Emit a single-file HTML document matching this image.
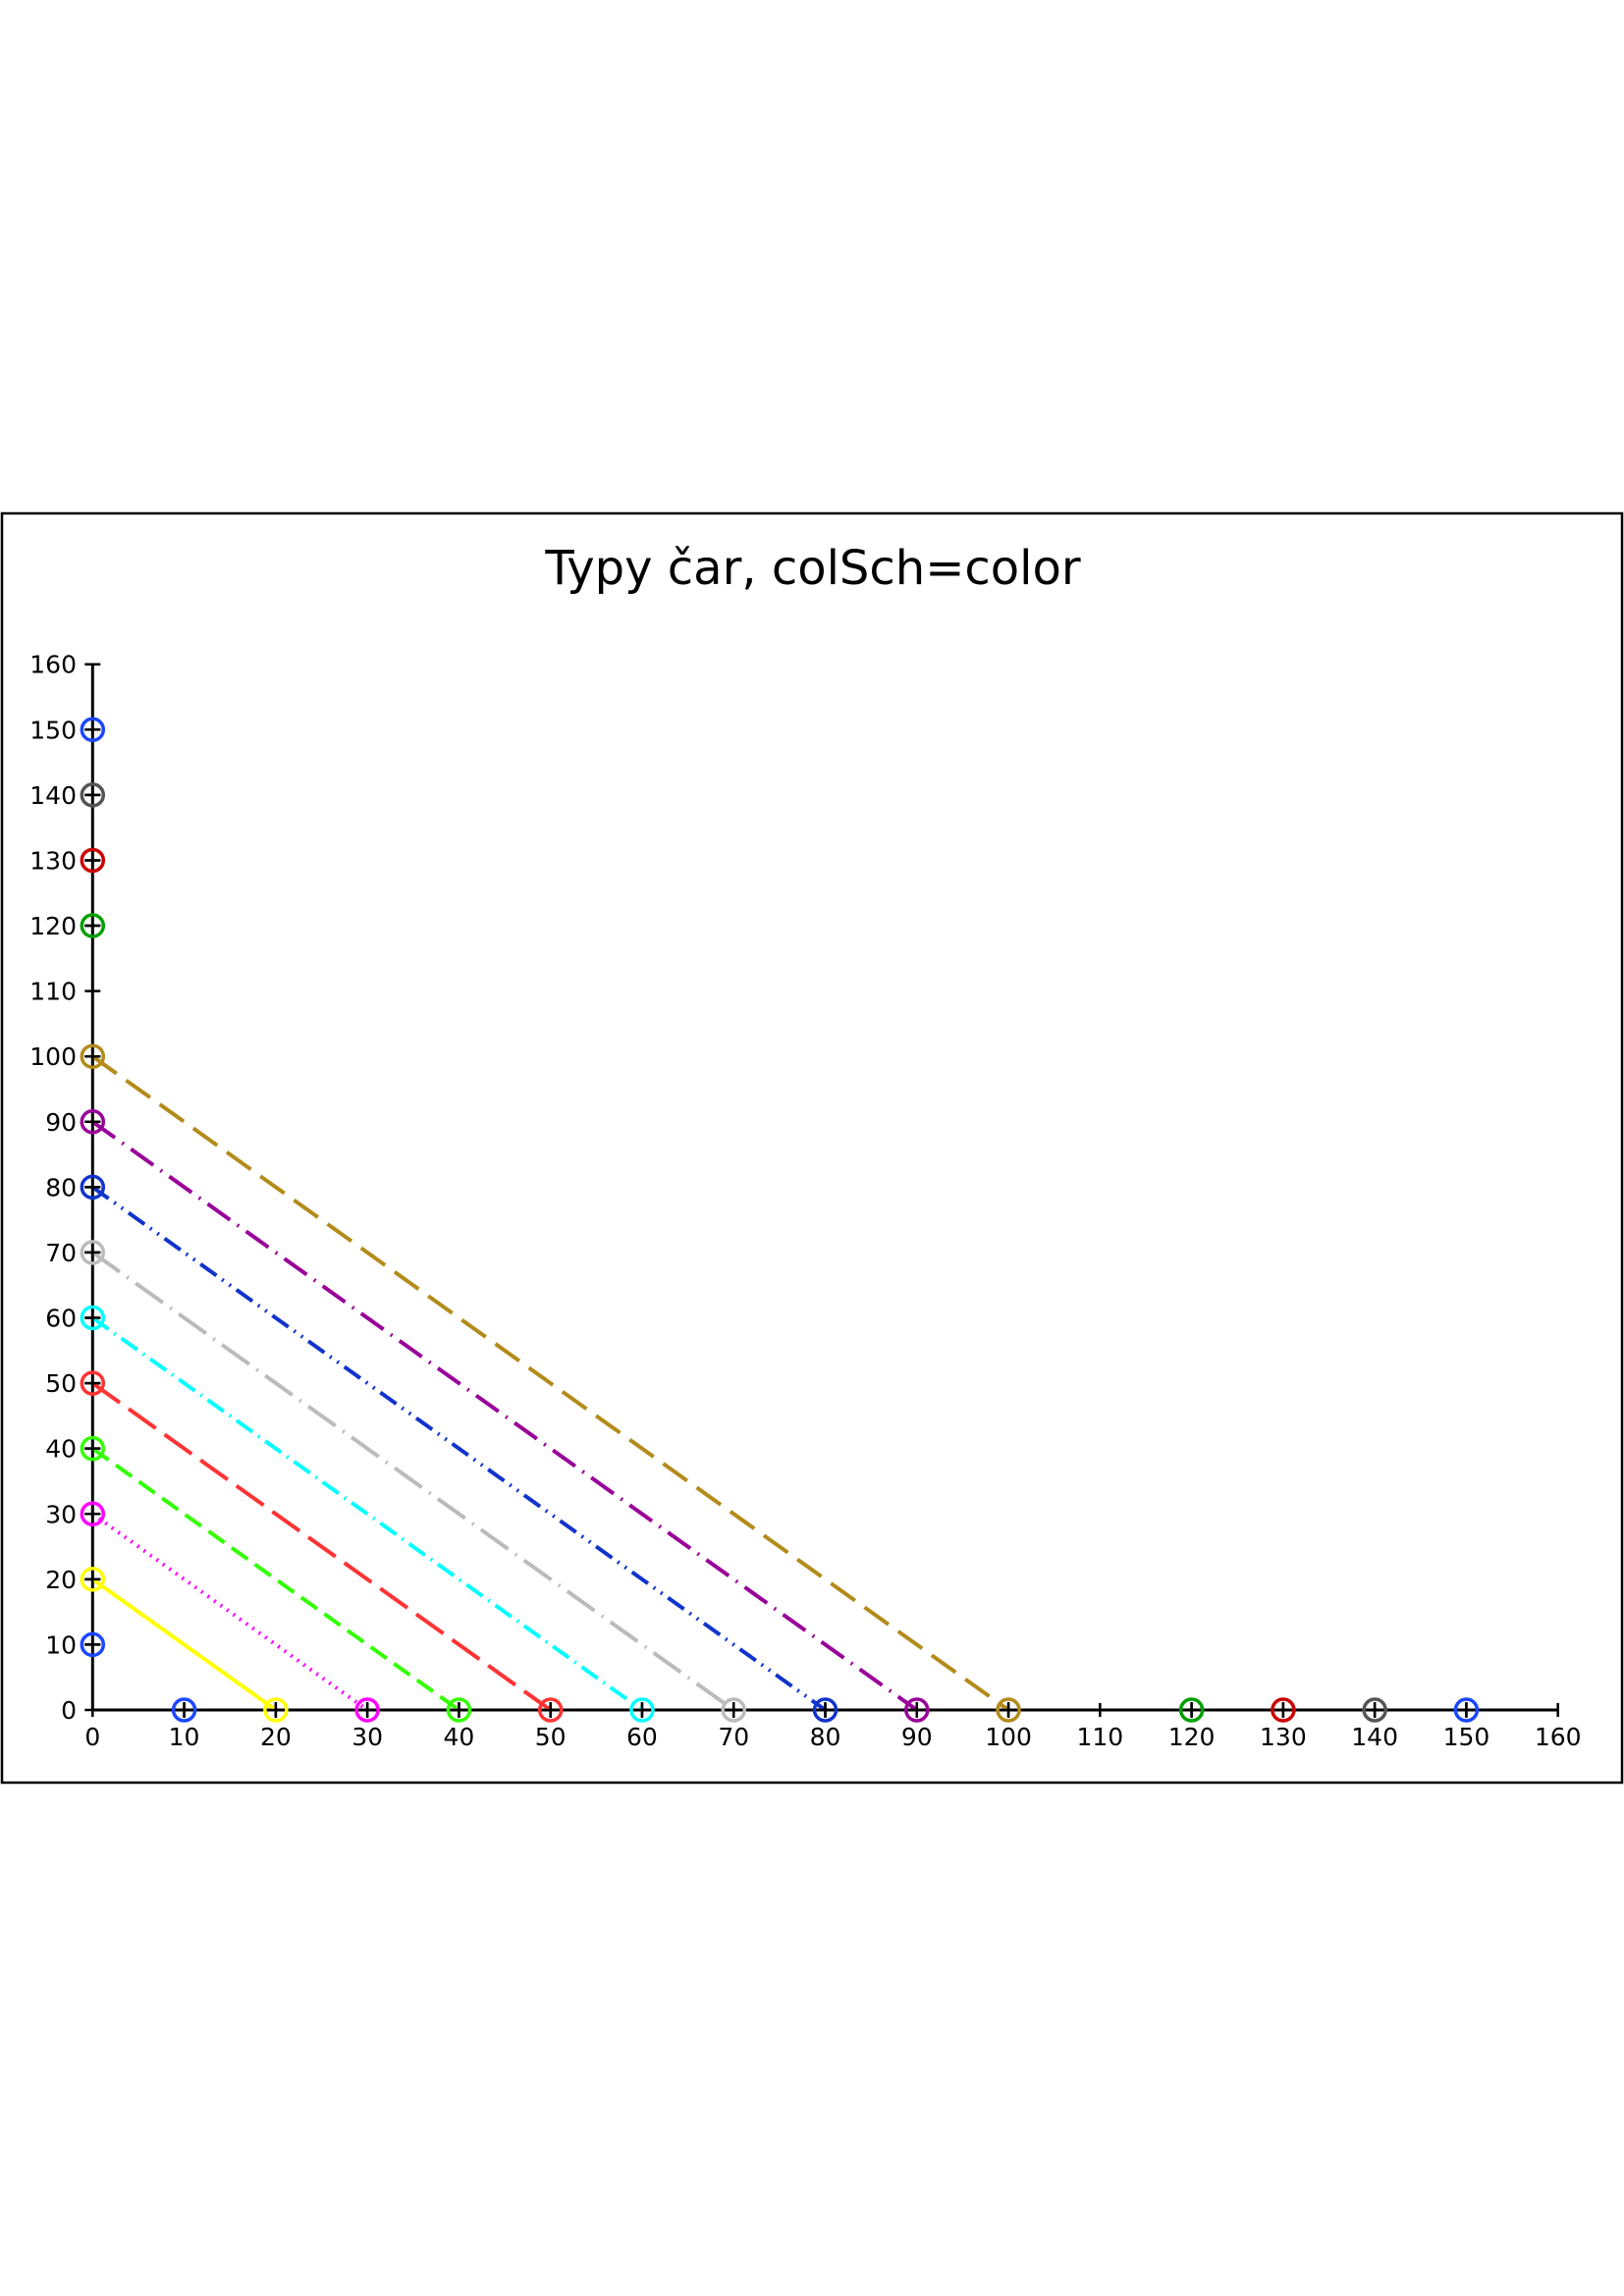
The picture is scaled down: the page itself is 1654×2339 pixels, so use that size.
<!DOCTYPE html>
<html><head><meta charset="utf-8"><style>
html,body{margin:0;padding:0;background:#fff;}
svg{display:block;font-family:"DejaVu Sans","Liberation Sans",sans-serif;}
</style></head><body>
<svg id="chart" width="1654" height="2339" viewBox="0 0 1654 2339" xmlns="http://www.w3.org/2000/svg">
<rect x="2" y="523" width="1650" height="1293" fill="none" stroke="#000" stroke-width="2.5"/>
<text x="828" y="595" font-size="48" text-anchor="middle" fill="#000">Typy čar, colSch=color</text>
<g id="axes"></g>
<g id="series"></g>
<g id="markers"></g>
</svg>
<script>
const ticks = [0,10,20,30,40,50,60,70,80,90,100,110,120,130,140,150,160];
const lineValues = [20,30,40,50,60,70,80,90,100];
const lineColors = ["#ffff00","#ff00ff","#33ff00","#ff3333","#00ffff","#bbbbbb","#1133cc","#990099","#b38b1a"];
const lineDashes = ["none","2 6","20 9","34 11","20 7 2 7","34 9 2 9","20 7 2 7 2 7","28 9 2 9","30 12"];
const pointValues = [10,120,130,140,150];
const pointColors = ["#1a47ff","#00a000","#cc0000","#555555","#1a47ff"];

const NS="http://www.w3.org/2000/svg";
const X0=94.3, Y0=1742, PX=(1586.7-94.3)/160, PY=(1742-676.7)/160;
function sx(v){return X0+v*PX;}
function sy(v){return Y0-v*PY;}
function mk(tag,attrs,parent){const e=document.createElementNS(NS,tag);for(const k in attrs)e.setAttribute(k,attrs[k]);parent.appendChild(e);return e;}
const axes=document.getElementById('axes'), series=document.getElementById('series'), markers=document.getElementById('markers');

const xa=mk('line',{x1:sx(0),y1:sy(0),x2:sx(160),y2:sy(0),stroke:'#000','stroke-width':3},axes);


const ya=mk('line',{x1:sx(0),y1:sy(0),x2:sx(0),y2:sy(160),stroke:'#000','stroke-width':3},axes);


ticks.forEach(t=>{
  const tx=mk('line',{x1:sx(t),y1:sy(0)-7,x2:sx(t),y2:sy(0)+7,stroke:'#000','stroke-width':2.5},axes);
  
  
  const lx=mk('text',{x:sx(t),y:1778,'font-size':25,'text-anchor':'middle'},axes);
  lx.textContent=t;
  
  
  const ty=mk('line',{x1:sx(0)-8,y1:sy(t),x2:sx(0)+8,y2:sy(t),stroke:'#000','stroke-width':2.5},axes);
  
  
  const ly=mk('text',{x:78,y:sy(t)+9,'font-size':25,'text-anchor':'end'},axes);
  ly.textContent=t;
  
  
});
function marker(x,y,c){
  const g=mk('g',{},markers);
  
  
  mk('circle',{cx:x,cy:y,r:11,fill:'none',stroke:c,'stroke-width':3.5},g);
  mk('line',{x1:x-8,y1:y,x2:x+8,y2:y,stroke:'#000','stroke-width':2.5},g);
  mk('line',{x1:x,y1:y-8,x2:x,y2:y+8,stroke:'#000','stroke-width':2.5},g);
}
lineValues.forEach((v,i)=>{
  const l=mk('line',{x1:sx(0),y1:sy(v),x2:sx(v),y2:sy(0),stroke:lineColors[i],'stroke-width':4},series);
  if(lineDashes[i]!=='none')l.setAttribute('stroke-dasharray',lineDashes[i]);
  
  
  marker(sx(0),sy(v),lineColors[i]);
  marker(sx(v),sy(0),lineColors[i]);
});
pointValues.forEach((v,i)=>{
  marker(sx(0),sy(v),pointColors[i]);
  marker(sx(v),sy(0),pointColors[i]);
});
</script>
</body></html>
